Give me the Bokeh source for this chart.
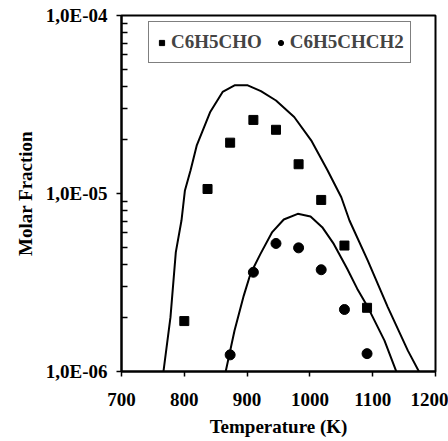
from bokeh.plotting import figure
from bokeh.models import FixedTicker, CustomJSTickFormatter, Legend, LegendItem, Range1d
from bokeh.embed import file_html
from bokeh.resources import INLINE

# Experimental points
T_cho = [800, 837, 873, 910, 946, 982, 1018, 1055, 1091]
x_cho = [1.92e-6, 1.06e-5, 1.93e-5, 2.59e-5, 2.28e-5, 1.46e-5, 9.2e-6, 5.1e-6, 2.28e-6]
T_sty = [873, 910, 946, 982, 1018, 1055, 1091]
x_sty = [1.24e-6, 3.61e-6, 5.24e-6, 4.95e-6, 3.73e-6, 2.23e-6, 1.26e-6]

# Model curves
T_cho_m = [766, 778, 786.5, 795.5, 801, 810, 820, 841, 861, 880, 901, 922, 946, 975,
           1002, 1028, 1050, 1063, 1092, 1124, 1156, 1177]
x_cho_m = [9.5e-7, 2.02e-6, 4.68e-6, 7.05e-6, 1.04e-5, 1.35e-5, 1.87e-5, 2.86e-5, 3.72e-5,
           4.05e-5, 4.05e-5, 3.76e-5, 3.33e-5, 2.69e-5, 1.99e-5, 1.35e-5, 9.53e-6, 7.05e-6,
           4.21e-6, 2.30e-6, 1.31e-6, 9.5e-7]
T_sty_m = [864, 880, 894.7, 905.4, 921.3, 940, 958.4, 980.7, 1001, 1019.6, 1038, 1059.4,
           1075.3, 1092.2, 1118.8, 1140]
x_sty_m = [9.3e-7, 1.70e-6, 2.67e-6, 3.54e-6, 4.58e-6, 6.07e-6, 7.14e-6, 7.69e-6, 7.43e-6,
           6.47e-6, 5.21e-6, 3.78e-6, 2.92e-6, 2.30e-6, 1.49e-6, 9.5e-7]

x_ticks = [700, 800, 900, 1000, 1100, 1200]
y_ticks = [1e-6, 1e-5, 1e-4]
y_minor = [m * 10 ** e for e in (-6, -5) for m in range(2, 10)]

FONT = "'Liberation Serif', serif"

p = figure(width=448, height=441, y_axis_type="log",
           x_range=Range1d(700, 1200), y_range=Range1d(1e-6, 1e-4),
           output_backend="svg", toolbar_location=None,
           min_border_left=121, min_border_top=15, min_border_right=13, min_border_bottom=70)
p.grid.visible = False
p.outline_line_color = "black"
p.outline_line_width = 2
p.background_fill_color = "white"
p.border_fill_color = "white"

p.line(T_cho_m, x_cho_m, line_color="black", line_width=2)
p.line(T_sty_m, x_sty_m, line_color="black", line_width=2)
sq = p.scatter(T_cho, x_cho, marker="square", size=9, fill_color="black", line_color="black")
ci = p.scatter(T_sty, x_sty, marker="circle", size=10, fill_color="black", line_color="black")

xa = p.xaxis[0]
xa.ticker = FixedTicker(ticks=x_ticks)
xa.axis_label = "Temperature (K)"
ya = p.yaxis[0]
ya.ticker = FixedTicker(ticks=y_ticks, minor_ticks=y_minor)
ya.formatter = CustomJSTickFormatter(code="""
const s = tick.toExponential(1);
const parts = s.split('e');
let e = parseInt(parts[1]);
const sign = e < 0 ? '-' : '+';
e = Math.abs(e);
return parts[0].replace('.', ',') + 'E' + sign + (e < 10 ? '0' : '') + e;
""")
ya.axis_label = "Molar Fraction"

for ax in (xa, ya):
    ax.axis_line_width = 2
    ax.axis_line_color = "black"
    ax.major_tick_line_color = "black"
    ax.major_tick_line_width = 1.5
    ax.major_tick_out = 5
    ax.major_tick_in = 0
    ax.major_label_text_font = FONT
    ax.major_label_text_font_style = "bold"
    ax.major_label_text_font_size = "19px"
    ax.major_label_text_color = "black"
    ax.axis_label_text_font = FONT
    ax.axis_label_text_font_style = "bold"
    ax.axis_label_text_font_size = "19px"
    ax.axis_label_text_color = "black"
xa.minor_tick_line_color = None
ya.minor_tick_line_color = "black"
ya.minor_tick_line_width = 1.5
ya.minor_tick_in = 6
ya.minor_tick_out = 0
xa.major_label_standoff = 16
xa.axis_label_standoff = 7
ya.major_label_standoff = 9
ya.axis_label_standoff = 7

legend = Legend(items=[LegendItem(label="C6H5CHO", renderers=[sq]),
                       LegendItem(label="C6H5CHCH2", renderers=[ci])],
                orientation="horizontal", location=(27, 308))
legend.label_text_font = FONT
legend.label_text_font_style = "bold"
legend.label_text_font_size = "19px"
legend.label_standoff = 3
legend.label_height = 28
legend.glyph_width = 13
legend.glyph_height = 13
legend.spacing = 12
legend.padding = 6
legend.margin = 0
legend.border_line_color = "black"
legend.border_line_width = 1
legend.background_fill_alpha = 1
p.add_layout(legend)

open("out.html", "w").write(file_html(p, INLINE))
